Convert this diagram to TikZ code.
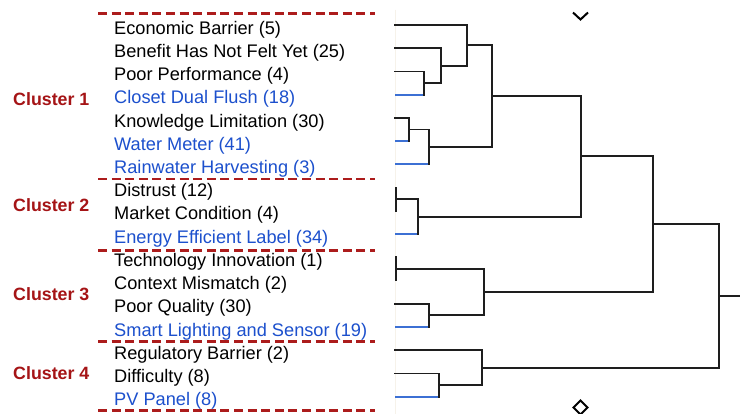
\documentclass[tikz,border=0pt]{standalone}
\usepackage{fontspec}
\setmainfont{Liberation Sans}
\definecolor{lblue}{RGB}{28,80,205}
\definecolor{lnblue}{RGB}{60,112,212}
\definecolor{cred}{RGB}{165,20,22}
\definecolor{sepred}{RGB}{172,28,28}
\definecolor{dline}{RGB}{30,30,30}
\definecolor{axisc}{RGB}{246,242,234}
\tikzset{
  lbl/.style={anchor=base west, inner sep=0pt, font=\fontsize{18.2}{20}\selectfont, text=black},
  blbl/.style={lbl, text=lblue},
  clbl/.style={anchor=base west, inner sep=0pt, font=\fontsize{17.8}{20}\selectfont\bfseries, text=cred},
  sepline/.style={draw=sepred, line width=2.6pt, dash pattern=on 9pt off 4.6pt},
  dend/.style={draw=dline, line width=1.8pt, line cap=rect},
  bdend/.style={draw=lnblue, line width=1.8pt},
  mark diamond/.style={draw=black, line width=2pt, line join=miter}
}
\begin{document}
\begin{tikzpicture}[x=1pt,y=-1pt]
\useasboundingbox (0,0) rectangle (740,414);
\fill[white] (0,0) rectangle (740,414);
% faint axis
\draw[axisc, line width=1pt] (395,10) -- (395,414);
% separators
\foreach \yy in {13.3,179,250.7,341.7,410.7}{
  \draw[sepline] (98,\yy) -- (375,\yy);
}
% cluster labels
\node[clbl] (c1) at (13,106) {Cluster 1};
\node[clbl] (c2) at (13,212) {Cluster 2};
\node[clbl] (c3) at (13,301) {Cluster 3};
\node[clbl] (c4) at (13,379.5) {Cluster 4};
% leaf labels
\node[lbl]  (t0)  at (114,34.2)  {Economic Barrier (5)};
\node[lbl]  (t1)  at (114,57.4)  {Benefit Has Not Felt Yet (25)};
\node[lbl]  (t2)  at (114,80.7)  {Poor Performance (4)};
\node[blbl] (t3)  at (114,103.9) {Closet Dual Flush (18)};
\node[lbl]  (t4)  at (114,127.1) {Knowledge Limitation (30)};
\node[blbl] (t5)  at (114,150.4) {Water Meter (41)};
\node[blbl] (t6)  at (114,173.6) {Rainwater Harvesting (3)};
\node[lbl]  (t7)  at (114,196.8) {Distrust (12)};
\node[lbl]  (t8)  at (114,220.0) {Market Condition (4)};
\node[blbl] (t9)  at (114,243.3) {Energy Efficient Label (34)};
\node[lbl]  (t10) at (114,266.5) {Technology Innovation (1)};
\node[lbl]  (t11) at (114,289.7) {Context Mismatch (2)};
\node[lbl]  (t12) at (114,313.0) {Poor Quality (30)};
\node[blbl] (t13) at (114,336.2) {Smart Lighting and Sensor (19)};
\node[lbl]  (t14) at (114,359.4) {Regulatory Barrier (2)};
\node[lbl]  (t15) at (114,382.7) {Difficulty (8)};
\node[blbl] (t16) at (114,405.9) {PV Panel (8)};
% leaf coordinates
\coordinate (L0) at (395,25.00);
\coordinate (L1) at (395,48.23);
\coordinate (L2) at (395,71.46);
\coordinate (L3) at (395,94.69);
\coordinate (L4) at (395,117.92);
\coordinate (L5) at (395,141.15);
\coordinate (L6) at (395,164.38);
\coordinate (L7) at (395,187.61);
\coordinate (L8) at (395,210.84);
\coordinate (L9) at (395,234.07);
\coordinate (L10) at (395,257.30);
\coordinate (L11) at (395,280.53);
\coordinate (L12) at (395,303.76);
\coordinate (L13) at (395,326.99);
\coordinate (L14) at (395,350.22);
\coordinate (L15) at (395,373.45);
\coordinate (L16) at (395,396.68);
% merge coordinates
\coordinate (m34) at (423.7,83.08);
\coordinate (m1) at (440.7,65.66);
\coordinate (m0) at (467.3,45.33);
\coordinate (m45) at (409,129.54);
\coordinate (m456) at (429.3,146.96);
\coordinate (C1) at (492.3,96.14);
\coordinate (m78) at (395.7,199.23);
\coordinate (C2) at (418,216.65);
\coordinate (m1011) at (395.7,268.9);
\coordinate (m1213) at (429.3,315.38);
\coordinate (C3) at (484,292.14);
\coordinate (m1516) at (439,385.07);
\coordinate (C4) at (482.3,367.64);
\coordinate (C12) at (580.7,156.4);
\coordinate (C123) at (653.3,224.27);
\coordinate (R) at (719.3,295.96);
\coordinate (Rend) at (742,295.96);
% leaf branches
\draw[dend]  (L0) -- (L0 -| m0);
\draw[dend]  (L1) -- (L1 -| m1);
\draw[dend]  (L2) -- (L2 -| m34);
\draw[bdend] (L3) -- (L3 -| m34);
\draw[dend]  (L4) -- (L4 -| m45);
\draw[bdend] (L5) -- (L5 -| m45);
\draw[bdend] (L6) -- (L6 -| m456);
\draw[bdend] (L9) -- (L9 -| C2);
\draw[dend]  (L12) -- (L12 -| m1213);
\draw[bdend] (L13) -- (L13 -| m1213);
\draw[dend]  (L14) -- (L14 -| C4);
\draw[dend]  (L15) -- (L15 -| m1516);
\draw[bdend] (L16) -- (L16 -| m1516);
% verticals
\draw[dend] (m34 |- L2) -- (m34 |- L3);
\draw[dend] (m1 |- L1) -- (m1 |- m34);
\draw[dend] (m0 |- L0) -- (m0 |- m1);
\draw[dend] (m45 |- L4) -- (m45 |- L5);
\draw[dend] (m456 |- m45) -- (m456 |- L6);
\draw[dend] (C1 |- m0) -- (C1 |- m456);
\draw[dend] (m78 |- L7) -- (m78 |- L8);
\draw[dend] (C2 |- m78) -- (C2 |- L9);
\draw[dend] (m1011 |- L10) -- (m1011 |- L11);
\draw[dend] (m1213 |- L12) -- (m1213 |- L13);
\draw[dend] (C3 |- m1011) -- (C3 |- m1213);
\draw[dend] (m1516 |- L15) -- (m1516 |- L16);
\draw[dend] (C4 |- L14) -- (C4 |- m1516);
\draw[dend] (C12 |- C1) -- (C12 |- C2);
\draw[dend] (C123 |- C12) -- (C123 |- C3);
\draw[dend] (R |- C123) -- (R |- C4);
% links to parents
\draw[dend] (m34) -- (m34 -| m1);
\draw[dend] (m1) -- (m1 -| m0);
\draw[dend] (m0) -- (m0 -| C1);
\draw[dend] (m45) -- (m45 -| m456);
\draw[dend] (m456) -- (m456 -| C1);
\draw[dend] (C1) -- (C1 -| C12);
\draw[dend] (m78) -- (m78 -| C2);
\draw[dend] (C2) -- (C2 -| C12);
\draw[dend] (m1011) -- (m1011 -| C3);
\draw[dend] (m1213) -- (m1213 -| C3);
\draw[dend] (C3) -- (C3 -| C123);
\draw[dend] (m1516) -- (m1516 -| C4);
\draw[dend] (C4) -- (C4 -| R);
\draw[dend] (C12) -- (C12 -| C123);
\draw[dend] (C123) -- (C123 -| R);
\draw[dend] (R) -- (Rend);
% diamond markers
\draw[mark diamond] (573,12.5) -- (580.5,19.5) -- (588,12.5);
\draw[mark diamond] (573.5,407.5) -- (580.5,400.5) -- (587.5,407.5) -- (580.5,414.5) -- cycle;
\end{tikzpicture}
\end{document}
